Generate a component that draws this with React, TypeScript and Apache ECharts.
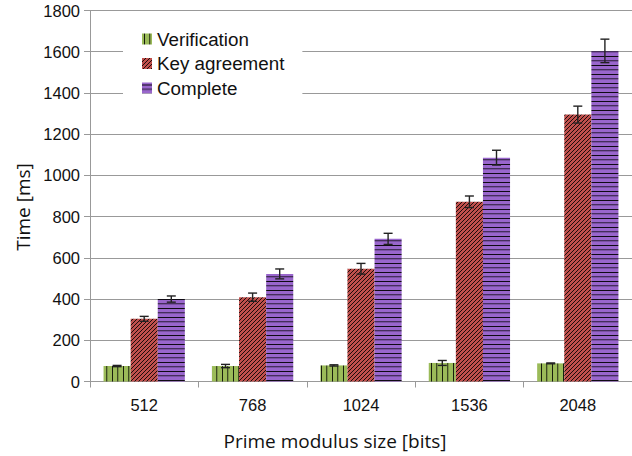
import React, { useEffect, useRef } from "react";
import * as echarts from "echarts";

const categories = ["512", "768", "1024", "1536", "2048"];
const seriesNames = ["Verification", "Key agreement", "Complete"];
const verification = [75, 75, 78, 90, 88];
const verificationErr = [3, 8, 3, 12, 2];
const keyAgreement = [304, 409, 547, 872, 1295];
const keyAgreementErr = [12, 20, 26, 28, 41];
const complete = [400, 522, 692, 1086, 1604];
const completeErr = [15, 24, 27, 36, 57];
const yTicks = { min: 0, max: 1800, interval: 200 };

const colors = ["#9BBB59", "#C0504D", "#9966CC"];

function makeTile(kind: number, base: string): HTMLCanvasElement {
  const c = document.createElement("canvas");
  let w = 4;
  let h = 4;
  if (kind === 0) {
    w = 11;
    h = 4;
  } else if (kind === 2) {
    w = 4;
    h = 9;
  }
  c.width = w;
  c.height = h;
  const ctx = c.getContext("2d")!;
  ctx.fillStyle = base;
  ctx.fillRect(0, 0, w, h);
  if (kind === 0) {
    ctx.fillStyle = "rgba(0,0,0,0.85)";
    ctx.fillRect(2, 0, 1, h);
    ctx.fillStyle = "rgba(0,0,0,0.6)";
    ctx.fillRect(7, 0, 1, h);
    ctx.fillStyle = "rgba(0,0,0,0.2)";
    ctx.fillRect(8, 0, 1, h);
  } else if (kind === 1) {
    ctx.fillStyle = "rgba(0,0,0,0.85)";
    ctx.fillRect(3, 0, 1, 1);
    ctx.fillRect(2, 1, 1, 1);
    ctx.fillRect(1, 2, 1, 1);
    ctx.fillRect(0, 3, 1, 1);
  } else {
    ctx.fillStyle = "rgba(0,0,0,0.9)";
    ctx.fillRect(0, 2, w, 1);
    ctx.fillStyle = "rgba(0,0,0,0.55)";
    ctx.fillRect(0, 6, w, 1);
    ctx.fillStyle = "rgba(0,0,0,0.2)";
    ctx.fillRect(0, 7, w, 1);
  }
  return c;
}

export default function App() {
  const ref = useRef<HTMLDivElement>(null);
  useEffect(() => {
    if (!ref.current) return;
    const chart = echarts.init(ref.current, null, { renderer: "svg" });
    const values = [verification, keyAgreement, complete];
    const errs = [verificationErr, keyAgreementErr, completeErr];
    const errData: number[][] = [];
    values.forEach((vals, s) => {
      vals.forEach((v, i) => {
        errData.push([i, v - errs[s][i], v + errs[s][i], s]);
      });
    });
    const barSeries = seriesNames.map((name, s) => ({
      name,
      type: "bar",
      data: values[s],
      barWidth: "25%",
      barGap: "0%",
      itemStyle: {
        color: { image: makeTile(s, colors[s]), repeat: "repeat" },
      },
      z: 2,
    }));
    const axisColor = "#999999";
    const titleFont = "'Open Sans', 'Noto Sans', sans-serif";
    chart.setOption({
      animation: false,
      textStyle: { fontFamily: "'Liberation Sans', Arial, sans-serif" },
      grid: { left: 90, right: 0, top: 10.5, bottom: 74.5 },
      legend: {
        data: seriesNames,
        orient: "vertical",
        left: 123,
        top: 20,
        backgroundColor: "#ffffff",
        padding: [9, 18, 8, 19],
        itemWidth: 10,
        itemHeight: 11,
        itemGap: 4.5,
        icon: "rect",
        textStyle: {
          fontSize: 18.8,
          lineHeight: 20,
          color: "#111",
          fontFamily: "'Liberation Sans', Arial, sans-serif",
        },
      },
      xAxis: {
        type: "category",
        data: categories,
        axisLine: { show: true, lineStyle: { color: axisColor } },
        axisTick: { show: true, length: 6, lineStyle: { color: axisColor } },
        axisLabel: { fontSize: 16.5, color: "#111", margin: 15 },
      },
      yAxis: {
        type: "value",
        min: yTicks.min,
        max: yTicks.max,
        interval: yTicks.interval,
        axisLine: { show: true, lineStyle: { color: axisColor } },
        axisTick: { show: true, length: 6, lineStyle: { color: axisColor } },
        axisLabel: {
          fontSize: 16.5,
          color: "#111",
          margin: 10,
          formatter: (v: number) => String(v),
        },
        splitLine: { show: true, lineStyle: { color: axisColor, width: 1 } },
      },
      graphic: [
        {
          type: "text",
          x: 335,
          y: 441,
          style: {
            text: "Prime modulus size [bits]",
            fontSize: 19,
            fontFamily: titleFont,
            fill: "#111",
            align: "center",
            verticalAlign: "middle",
          },
        },
        {
          type: "text",
          x: 23,
          y: 207,
          rotation: Math.PI / 2,
          style: {
            text: "Time [ms]",
            fontSize: 19,
            fontFamily: titleFont,
            fill: "#111",
            align: "center",
            verticalAlign: "middle",
          },
        },
      ],
      series: [
        ...barSeries,
        {
          type: "custom",
          name: "errors",
          data: errData,
          z: 5,
          renderItem: (params: any, api: any) => {
            const idx = api.value(0);
            const lo = api.coord([idx, api.value(1)]);
            const hi = api.coord([idx, api.value(2)]);
            const s = api.value(3);
            const bw = api.size([1, 0])[0] * 0.25;
            const x = lo[0] + (s - 1) * bw;
            const cap = 4.5;
            const style = { stroke: "#222", lineWidth: 1.4 };
            return {
              type: "group",
              children: [
                { type: "line", shape: { x1: x, y1: lo[1], x2: x, y2: hi[1] }, style },
                { type: "line", shape: { x1: x - cap, y1: lo[1], x2: x + cap, y2: lo[1] }, style },
                { type: "line", shape: { x1: x - cap, y1: hi[1], x2: x + cap, y2: hi[1] }, style },
              ],
            };
          },
        },
      ],
    });
    return () => chart.dispose();
  }, []);
  return (
    <div
      ref={ref}
      style={{ position: "absolute", left: 0, top: 0, width: 632, height: 456 }}
    />
  );
}
